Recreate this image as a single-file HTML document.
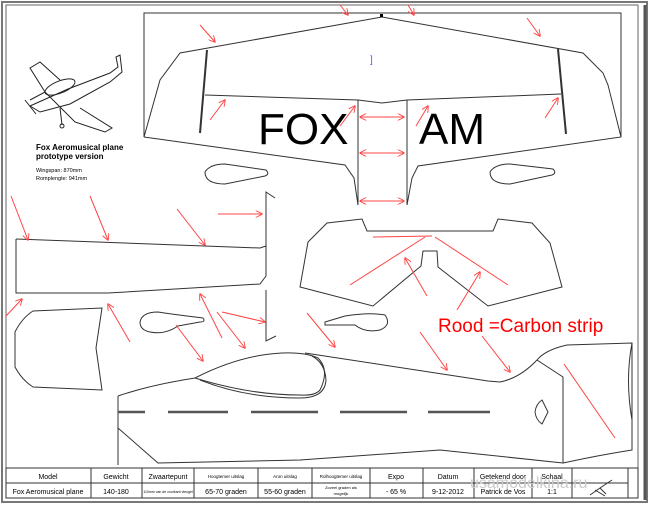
<!DOCTYPE html>
<html><head><style>
body{margin:0;background:#fff;}
svg{display:block;font-family:"Liberation Sans",Arial,sans-serif;}
</style></head><body>
<svg width="650" height="507" viewBox="0 0 650 507" xmlns="http://www.w3.org/2000/svg">
<defs>
<marker id="a" viewBox="0 0 10 10" refX="9" refY="5" markerWidth="7" markerHeight="7" orient="auto-start-reverse" markerUnits="userSpaceOnUse">
<path d="M0,0 L10,5 L0,10" fill="none" stroke="#f44" stroke-width="1.3"/></marker>
</defs>
<rect x="0" y="0" width="650" height="507" fill="#fff"/>
<rect x="2" y="2" width="645" height="500" fill="none" stroke="#777" stroke-width="2"/>
<rect x="6" y="5" width="632" height="493" fill="none" stroke="#666" stroke-width="1"/>
<line x1="645" y1="5" x2="645" y2="500" stroke="#555" stroke-width="3"/>

<g fill="none" stroke="#333" stroke-width="1">
<polyline points="144,137 144,13 621,13 621,137"/>
<polyline points="144,137 160,80 180,53 382,17 583,53 603,73 608,85 621,137 418,166 412,178 407,205"/>
<polyline points="144,137 345,165 354,178 358,205"/>
<line x1="358" y1="100" x2="358" y2="205"/>
<line x1="407" y1="100" x2="407" y2="205"/>
<polyline points="205,95 358,100 382,103 407,100 561,94"/>
<line x1="207" y1="50" x2="200" y2="133" stroke-width="2"/>
<line x1="558" y1="49" x2="566" y2="134" stroke-width="2"/>
<path d="M205,172 Q210,164 225,164 L266,170 Q270,174 265,176 L225,184 Q205,184 205,172Z"/>
<path d="M490,172 Q495,164 510,164 L553,169 Q557,173 552,175 L510,184 Q490,184 490,172Z"/>
<path d="M140,322 Q142,312 158,312 Q170,314 203,318 Q206,322 200,322 L178,326 Q165,335 150,332 Q140,330 140,322Z"/>
<path d="M325,322 L345,316 Q370,312 385,315 Q392,325 380,330 Q365,333 355,325 L325,325Z"/>
<polyline points="16,239 16,293 108,293 260,284 266,276 266,192 275,198"/>
<polyline points="16,239 260,248 266,246"/>
<polyline points="266,290 266,341 276,336"/>
<path d="M33,311 L102,308 L96,348 L102,390 L33,387 Q22,380 15,367 L15,332 Q22,318 33,311Z"/>
<polygon points="300,287 308,242 327,223 362,219 367,231 493,231 498,219 532,223 550,243 562,287 488,306 438,267 437,251 423,251 421,266 373,306"/>
<path d="M118,396 L118,465 M118,428 L158,463 L300,460 L440,450 L563,463 Q600,455 632,450 L632,343 L567,345 Q545,350 537,360 Q520,378 500,382 L488,381 L305,353"/>
<path d="M118,396 Q150,385 195,378 Q240,355 282,353 Q305,352 318,358 Q330,370 320,390 Q315,396 300,395 Q250,395 195,378"/>
<path d="M200,380 Q245,398 300,398 Q325,398 326,380 Q325,363 312,356"/>
<polyline points="537,360 563,377 563,463"/>
<path d="M542,400 L548,412 L542,424 Q536,420 535,412 Q536,404 542,400Z"/>
<path d="M632,343 Q625,380 632,420"/>
</g>
<g stroke="#555" stroke-width="2.5">
<line x1="118" y1="412" x2="145" y2="412"/><line x1="168" y1="412" x2="228" y2="412"/>
<line x1="251" y1="412" x2="318" y2="412"/><line x1="340" y1="412" x2="407" y2="412"/>
<line x1="428" y1="412" x2="490" y2="412"/>
</g>
<rect x="380" y="14" width="3" height="3" fill="#000"/>
<text x="370" y="63" font-size="10" fill="#55f">]</text>

<text x="258" y="144" font-size="44" fill="#000">FOX</text>
<text x="419" y="144" font-size="44" fill="#000">AM</text>

<g fill="none" stroke="#222" stroke-width="1">
<path d="M30,106 L68,89 L110,73 L118,67 L116,57 L120,55 L122,72 L110,82 L70,104 L40,112Z"/>
<path d="M30,100 L45,92 L75,122 L105,132 L112,128 L80,108 M45,92 L30,68 L40,62 L60,80"/>
<ellipse cx="60" cy="87" rx="16" ry="6" transform="rotate(-22 60 87)"/>
<line x1="25" y1="100" x2="36" y2="114"/><line x1="60" y1="108" x2="62" y2="125"/>
<circle cx="62" cy="126" r="2"/>
</g>
<g font-size="8" fill="#000">
<text x="36" y="150" font-weight="bold">Fox Aeromusical plane</text>
<text x="36" y="159" font-weight="bold">prototype version</text>
<text x="36" y="172" font-size="5.5">Wingspan:    870mm</text>
<text x="36" y="180" font-size="5.5">Romplengte:  941mm</text>
</g>

<text x="438" y="332" font-size="19" fill="#f00">Rood =Carbon strip</text>

<g stroke="#f44" stroke-width="1" fill="none">
<line x1="373" y1="237" x2="432" y2="236"/>
<line x1="350" y1="285" x2="425" y2="237"/><line x1="435" y1="237" x2="508" y2="285"/>
<line x1="564" y1="364" x2="615" y2="438"/>
</g>
<g stroke="#f44" stroke-width="1" fill="none" marker-end="url(#a)">
<line x1="360" y1="117" x2="404" y2="117" marker-start="url(#a)"/><line x1="360" y1="153" x2="404" y2="153" marker-start="url(#a)"/><line x1="360" y1="201" x2="404" y2="201" marker-start="url(#a)"/>
<line x1="200" y1="25" x2="215" y2="42"/><line x1="210" y1="120" x2="225" y2="100"/>
<line x1="340" y1="5" x2="348" y2="15"/><line x1="408" y1="5" x2="414" y2="15"/>
<line x1="527" y1="18" x2="540" y2="36"/><line x1="340" y1="126" x2="355" y2="106"/>
<line x1="416" y1="126" x2="428" y2="106"/><line x1="545" y1="118" x2="558" y2="98"/>
<line x1="11" y1="196" x2="28" y2="240"/><line x1="90" y1="196" x2="108" y2="240"/>
<line x1="177" y1="209" x2="205" y2="245"/><line x1="218" y1="214" x2="262" y2="214"/>
<line x1="6" y1="316" x2="22" y2="299"/><line x1="130" y1="342" x2="108" y2="304"/>
<line x1="176" y1="325" x2="203" y2="361"/><line x1="222" y1="338" x2="200" y2="294"/>
<line x1="217" y1="312" x2="245" y2="348"/><line x1="222" y1="312" x2="265" y2="322"/>
<line x1="307" y1="313" x2="335" y2="347"/><line x1="420" y1="332" x2="447" y2="370"/>
<line x1="482" y1="336" x2="510" y2="372"/><line x1="427" y1="296" x2="405" y2="258"/>
<line x1="457" y1="310" x2="480" y2="272"/>
</g>

<g fill="none" stroke="#333" stroke-width="1">
<rect x="6" y="468" width="632" height="30"/>
<line x1="6" y1="483" x2="628" y2="483"/>
<line x1="91" y1="468" x2="91" y2="498"/><line x1="142" y1="468" x2="142" y2="498"/>
<line x1="194" y1="468" x2="194" y2="498"/><line x1="258" y1="468" x2="258" y2="498"/>
<line x1="312" y1="468" x2="312" y2="498"/><line x1="370" y1="468" x2="370" y2="498"/>
<line x1="423" y1="468" x2="423" y2="498"/><line x1="474" y1="468" x2="474" y2="498"/>
<line x1="532" y1="468" x2="532" y2="498"/><line x1="572" y1="468" x2="572" y2="498"/>
<line x1="628" y1="468" x2="628" y2="498"/>
</g>
<g font-size="7" fill="#000" text-anchor="middle">
<text x="48" y="479">Model</text><text x="116" y="479">Gewicht</text>
<text x="168" y="479">Zwaartepunt</text><text x="226" y="478" font-size="4.5">Hoogtemer uitslag</text>
<text x="285" y="478" font-size="4.5">Aron uitslag</text><text x="341" y="478" font-size="4.5">Rolhoogtemer uitslag</text>
<text x="396" y="479">Expo</text><text x="448" y="479">Datum</text>
<text x="503" y="479">Getekend door</text><text x="552" y="479">Schaal</text>
<text x="48" y="494">Fox Aeromusical plane</text><text x="116" y="494">140-180</text>
<text x="168" y="493" font-size="3.5">110mm van de voorkant vleugel</text>
<text x="226" y="494">65-70 graden</text><text x="285" y="494">55-60 graden</text>
<text x="341" y="489" font-size="4">Zoveel graden als</text><text x="341" y="495" font-size="4">mogelijk</text>
<text x="396" y="494">- 65 %</text><text x="448" y="494">9-12-2012</text>
<text x="503" y="494">Patrick de Vos</text><text x="552" y="494">1:1</text>
</g>
<text x="470" y="488" font-size="16" fill="#ccc">usamodelkina.ru</text>
<path d="M590,495 L600,488 L612,480 M595,490 L605,496 M600,488 L606,494" stroke="#333" fill="none"/>
</svg>
</body></html>
